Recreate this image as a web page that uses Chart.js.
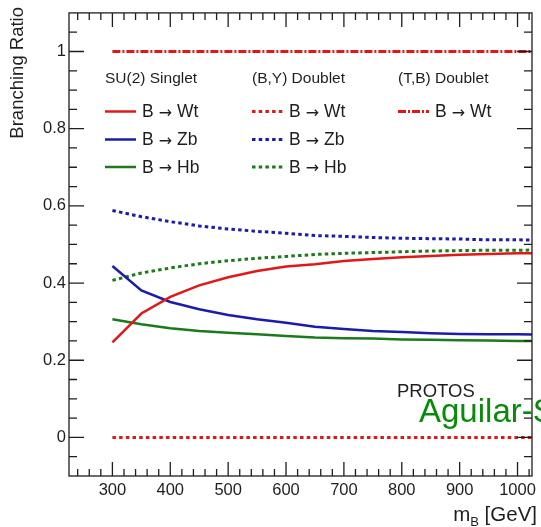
<!DOCTYPE html>
<html>
<head>
<meta charset="utf-8">
<script src="https://cdn.jsdelivr.net/npm/chart.js@4.4.1/dist/chart.umd.min.js"></script>
<style>
	html, body { margin: 0; padding: 0; background: #fff; }
	#wrap { width: 541px; height: 527px; }
</style>
</head>
<body>
<div id="wrap"><canvas id="chart" width="541" height="527"></canvas></div>
<script>
// B quark mass points (GeV)
const masses = [300, 350, 400, 450, 500, 550, 600, 650, 700, 750, 800, 850, 900, 950, 1000, 1050];

// SU(2) singlet
const singletWt = [0.246, 0.321, 0.364, 0.394, 0.415, 0.431, 0.443, 0.449, 0.457, 0.462, 0.467, 0.470, 0.473, 0.475, 0.477, 0.478];
const singletZb = [0.444, 0.381, 0.351, 0.332, 0.317, 0.306, 0.297, 0.287, 0.281, 0.276, 0.273, 0.270, 0.268, 0.267, 0.267, 0.266];
const singletHb = [0.306, 0.293, 0.283, 0.276, 0.271, 0.267, 0.263, 0.259, 0.257, 0.256, 0.254, 0.253, 0.252, 0.251, 0.250, 0.250];

// (B,Y) doublet
const byWt = [0, 0, 0, 0, 0, 0, 0, 0, 0, 0, 0, 0, 0, 0, 0, 0];
const byZb = [0.588, 0.572, 0.559, 0.548, 0.540, 0.534, 0.529, 0.523, 0.521, 0.518, 0.516, 0.515, 0.514, 0.512, 0.512, 0.511];
const byHb = [0.407, 0.426, 0.439, 0.450, 0.458, 0.464, 0.469, 0.474, 0.477, 0.479, 0.481, 0.483, 0.484, 0.485, 0.485, 0.486];

// (T,B) doublet
const tbWt = [1, 1, 1, 1, 1, 1, 1, 1, 1, 1, 1, 1, 1, 1, 1, 1];

const xTickLabels = [300, 400, 500, 600, 700, 800, 900, 1000];
const yTickLabels = [0, 0.2, 0.4, 0.6, 0.8, 1];

const RED = "#e01818";
const BLUE = "#1c1caa";
const GREEN = "#1b7a1b";
const INK = "#1e1e1e";
const FONT = "'Liberation Sans', Arial, Helvetica, sans-serif";

const DOTS = [3.5, 3.2];
const DASHDOT = [8, 2, 2, 2];

function pts(arr) {
	return masses.map((m, i) => ({ x: m, y: arr[i] }));
}

function line(label, arr, color, dash) {
	return {
		label: label,
		data: pts(arr),
		borderColor: color,
		borderWidth: dash ? 3 : 2.5,
		borderDash: dash || [],
		pointRadius: 0,
		tension: 0,
		fill: false,
	};
}

const datasets = [
	line("B \u2192 Wt", singletWt, RED),
	line("B \u2192 Zb", singletZb, BLUE),
	line("B \u2192 Hb", singletHb, GREEN),
	line("B \u2192 Wt", byWt, RED, DOTS),
	line("B \u2192 Zb", byZb, BLUE, DOTS),
	line("B \u2192 Hb", byHb, GREEN, DOTS),
	line("B \u2192 Wt", tbWt, RED, DASHDOT),
];

// legend label: arrow in DejaVu so it sits on the math axis
function drawLabel(ctx, text, x, y) {
	const parts = text.split("\u2192");
	ctx.font = "17.5px " + FONT;
	ctx.fillText(parts[0].trim(), x, y);
	x += ctx.measureText(parts[0].trim()).width + 5;
	ctx.font = "16px 'DejaVu Sans'";
	ctx.fillText("\u2192", x, y + 1);
	x += ctx.measureText("\u2192").width + 5;
	ctx.font = "17.5px " + FONT;
	ctx.fillText(parts[1].trim(), x, y);
}

// frame, inward ticks (ROOT style), legend and labels
const rootStyle = {
	id: "rootStyle",
	afterDraw(chart) {
		const ctx = chart.ctx;
		const a = chart.chartArea;
		const xs = chart.scales.x;
		const ys = chart.scales.y;
		ctx.save();
		ctx.strokeStyle = INK;
		ctx.lineWidth = 1.3;
		ctx.setLineDash([]);
		ctx.strokeRect(a.left, a.top, a.right - a.left, a.bottom - a.top);

		ctx.beginPath();
		for (let v = 240; v <= 1020; v += 20) {
			const px = xs.getPixelForValue(v);
			const len = v % 100 === 0 ? 14 : 7;
			ctx.moveTo(px, a.bottom);
			ctx.lineTo(px, a.bottom - len);
			ctx.moveTo(px, a.top);
			ctx.lineTo(px, a.top + len);
		}
		for (let k = -1; k <= 21; k++) {
			const v = k * 0.05;
			const py = ys.getPixelForValue(v);
			const len = k % 4 === 0 ? 15 : 8;
			ctx.moveTo(a.left, py);
			ctx.lineTo(a.left + len, py);
			ctx.moveTo(a.right, py);
			ctx.lineTo(a.right - len, py);
		}
		ctx.stroke();

		// legend
		const cols = [105, 252, 398];
		const heads = ["SU(2) Singlet", "(B,Y) Doublet", "(T,B) Doublet"];
		const rows = [111.5, 139.5, 167];
		const groups = [[0, 1, 2], [3, 4, 5], [6]];
		ctx.fillStyle = INK;
		ctx.textBaseline = "middle";
		ctx.textAlign = "left";
		ctx.font = "15.5px " + FONT;
		heads.forEach((h, c) => ctx.fillText(h, cols[c], 79));
		groups.forEach((g, c) => {
			g.forEach((di, r) => {
				const ds = chart.data.datasets[di];
				ctx.strokeStyle = ds.borderColor;
				ctx.lineWidth = ds.borderWidth;
				ctx.setLineDash(ds.borderDash);
				ctx.beginPath();
				ctx.moveTo(cols[c], rows[r]);
				ctx.lineTo(cols[c] + 31, rows[r]);
				ctx.stroke();
				drawLabel(ctx, ds.label, cols[c] + 37, rows[r] + 1);
			});
		});
		ctx.setLineDash([]);

		// annotations
		ctx.textBaseline = "alphabetic";
		ctx.font = "18.5px " + FONT;
		ctx.fillText("PROTOS", 397, 397);
		ctx.fillStyle = "#0a8a0a";
		ctx.font = "33px " + FONT;
		ctx.fillText("Aguilar-Saavedra", 419, 422);

		// axis titles
		ctx.fillStyle = INK;
		ctx.save();
		ctx.translate(18, 7);
		ctx.rotate(-Math.PI / 2);
		ctx.textAlign = "right";
		ctx.textBaseline = "middle";
		ctx.font = "18.5px " + FONT;
		ctx.fillText("Branching Ratio", 0, 0);
		ctx.restore();

		ctx.textAlign = "left";
		ctx.font = "20.5px " + FONT;
		const w1 = ctx.measureText(" [GeV]").width;
		const wm = ctx.measureText("m").width;
		ctx.font = "13px " + FONT;
		const wb = ctx.measureText("B").width;
		let x0 = 537 - w1 - wb - wm;
		ctx.font = "20.5px " + FONT;
		ctx.fillText("m", x0, 521);
		ctx.font = "13px " + FONT;
		ctx.fillText("B", x0 + wm, 526);
		ctx.font = "20.5px " + FONT;
		ctx.fillText(" [GeV]", x0 + wm + wb, 521);
		ctx.restore();
	},
};

new Chart(document.getElementById("chart"), {
	type: "line",
	data: { datasets: datasets },
	options: {
		responsive: false,
		animation: false,
		layout: { padding: { left: 0, right: 4, top: 9, bottom: 0 } },
		plugins: {
			legend: { display: false },
			tooltip: { enabled: false },
		},
		scales: {
			x: {
				type: "linear",
				min: 225,
				max: 1025,
				grid: { display: false, drawTicks: false },
				border: { display: false },
				afterBuildTicks: (s) => {
					s.ticks = xTickLabels.map((v) => ({ value: v }));
				},
				afterFit: (s) => {
					s.height = 51;
				},
				ticks: {
					autoSkip: false,
					maxRotation: 0,
					padding: 5,
					color: INK,
					font: { family: FONT, size: 16.5 },
					callback: (v) => String(v),
				},
			},
			y: {
				type: "linear",
				min: -0.1,
				max: 1.1,
				grid: { display: false, drawTicks: false },
				border: { display: false },
				afterBuildTicks: (s) => {
					s.ticks = yTickLabels.map((v) => ({ value: v }));
				},
				afterFit: (s) => {
					s.width = 69;
				},
				ticks: {
					autoSkip: false,
					padding: 3,
					color: INK,
					font: { family: FONT, size: 16.5 },
					callback: (v) => String(Math.round(v * 10) / 10),
				},
			},
		},
	},
	plugins: [rootStyle],
});
</script>
</body>
</html>
